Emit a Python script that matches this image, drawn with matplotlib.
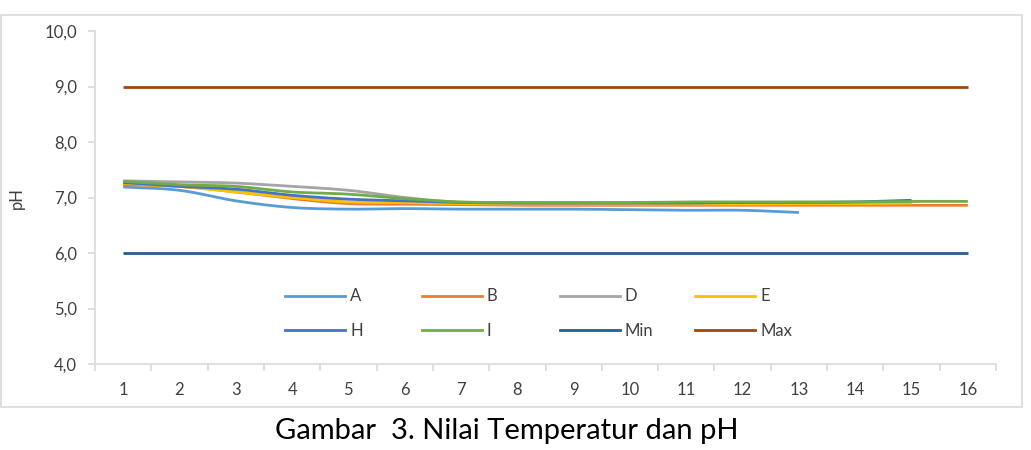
import numpy as np
import matplotlib
matplotlib.use("Agg")
import matplotlib.pyplot as plt
from matplotlib.patches import Rectangle
from matplotlib.lines import Line2D

plt.rcParams['font.family'] = ['Lato', 'DejaVu Sans']

days = list(range(1, 17))
tick_labels = [str(d) for d in days]

ph_A = [7.19, 7.13, 6.94, 6.82, 6.79, 6.80, 6.79, 6.79, 6.79, 6.78, 6.77, 6.77, 6.73]
ph_B = [7.23, 7.20, 7.10, 6.98, 6.89, 6.88, 6.87, 6.86, 6.86, 6.86, 6.86, 6.86, 6.86, 6.86, 6.86, 6.86]
ph_D = [7.30, 7.28, 7.26, 7.20, 7.13, 7.00, 6.91, 6.90, 6.89, 6.89, 6.89, 6.89, 6.89, 6.90, 6.92]
ph_E = [7.26, 7.20, 7.10, 7.00, 6.92, 6.91, 6.89, 6.88, 6.88, 6.88, 6.88, 6.88, 6.89, 6.89, 6.90]
ph_H = [7.27, 7.20, 7.15, 7.04, 6.97, 6.94, 6.91, 6.90, 6.90, 6.90, 6.90, 6.91, 6.91, 6.92, 6.95]
ph_I = [7.29, 7.23, 7.20, 7.10, 7.06, 6.98, 6.92, 6.91, 6.91, 6.91, 6.92, 6.92, 6.92, 6.92, 6.93, 6.93]
ph_min = [6.0] * 16
ph_max = [9.0] * 16

series_names = ['A', 'B', 'D', 'E', 'H', 'I', 'Min', 'Max']
series_values = [ph_A, ph_B, ph_D, ph_E, ph_H, ph_I, ph_min, ph_max]
colors = ['#5B9BD5', '#ED7D31', '#A5A5A5', '#FFC000', '#4472C4', '#70AD47', '#255E91', '#9E480E']


def smooth(xs, ys, n=12):
    """Bezier smoothing for line rendering (like Excel smoothed lines)."""
    xs = np.asarray(xs, float)
    ys = np.asarray(ys, float)
    if len(xs) < 3 or np.allclose(ys, ys[0]):
        return xs, ys
    px = np.concatenate([[2 * xs[0] - xs[1]], xs, [2 * xs[-1] - xs[-2]]])
    py = np.concatenate([[2 * ys[0] - ys[1]], ys, [2 * ys[-1] - ys[-2]]])
    ox, oy = [], []
    t = np.linspace(0, 1, n, endpoint=False)
    for i in range(1, len(px) - 2):
        p0, p1, p2, p3 = py[i - 1], py[i], py[i + 1], py[i + 2]
        x1, x2 = px[i], px[i + 1]
        c1 = p1 + (p2 - p0) / 6.0
        c2 = p2 - (p3 - p1) / 6.0
        b = ((1 - t) ** 3) * p1 + 3 * ((1 - t) ** 2) * t * c1 + 3 * (1 - t) * t ** 2 * c2 + t ** 3 * p2
        ox.extend(x1 + (x2 - x1) * t)
        oy.extend(b)
    ox.append(xs[-1])
    oy.append(ys[-1])
    return np.array(ox), np.array(oy)


W, H = 1031, 450
fig = plt.figure(figsize=(W / 100, H / 100), dpi=100)

# outer chart border
fig.patches.append(Rectangle((1 / W, 1 - 407 / H), 1021 / W, 392 / H,
                             transform=fig.transFigure, fill=False,
                             edgecolor='#D9D9D9', linewidth=1.2))

ax = fig.add_axes([95 / W, 1 - 364 / H, 901 / W, 333 / H])

handles = []
for name, vals, c in zip(series_names, series_values, colors):
    xs = days[:len(vals)]
    sx, sy = smooth(xs, vals)
    ax.plot(sx, sy, color=c, linewidth=2.0, solid_capstyle='butt',
            solid_joinstyle='round')
    handles.append(Line2D([], [], color=c, linewidth=2.0))

ax.set_xlim(0.5, 16.5)
ax.set_ylim(4.0, 10.0)
yt = np.arange(4.0, 10.01, 1.0)
ax.set_yticks(yt)
ax.set_yticklabels([f"{v:.1f}".replace('.', ',') for v in yt])
ax.set_xticks(days)
ax.set_xticklabels(tick_labels)
ax.set_xticks(np.arange(0.5, 16.51, 1.0), minor=True)

for s in ['top', 'right']:
    ax.spines[s].set_visible(False)
for s in ['left', 'bottom']:
    ax.spines[s].set_color('#D9D9D9')
    ax.spines[s].set_linewidth(1.2)

ax.tick_params(axis='x', which='major', length=0, pad=13, labelsize=12, labelcolor='#404040')
ax.tick_params(axis='x', which='minor', length=5, color='#D9D9D9', width=1.2)
ax.tick_params(axis='y', which='major', length=5, color='#D9D9D9', width=1.2,
               labelsize=12, labelcolor='#404040', pad=8)

fig.text(17 / W, 1 - 198 / H, 'pH', rotation=90, ha='center', va='center',
         fontsize=12, color='#404040')

# legend: one 2-row legend per column to keep Excel-like even spacing
col_x = [285, 422, 560, 695]
for j in range(4):
    hs = [handles[j], handles[j + 4]]
    ls = [series_names[j], series_names[j + 4]]
    fig.legend(hs, ls, loc='center left',
               bbox_to_anchor=(col_x[j] / W, 1 - 313.5 / H),
               bbox_transform=fig.transFigure, frameon=False,
               fontsize=12, handlelength=3.6, handletextpad=0.3,
               labelspacing=1.1, borderpad=0, borderaxespad=0,
               labelcolor='#404040')

fig.text(507 / W, 1 - 431 / H, 'Gambar  3. Nilai Temperatur dan pH',
         ha='center', va='center', fontsize=21, color='#000000')

fig.savefig('out.png', dpi=100)
